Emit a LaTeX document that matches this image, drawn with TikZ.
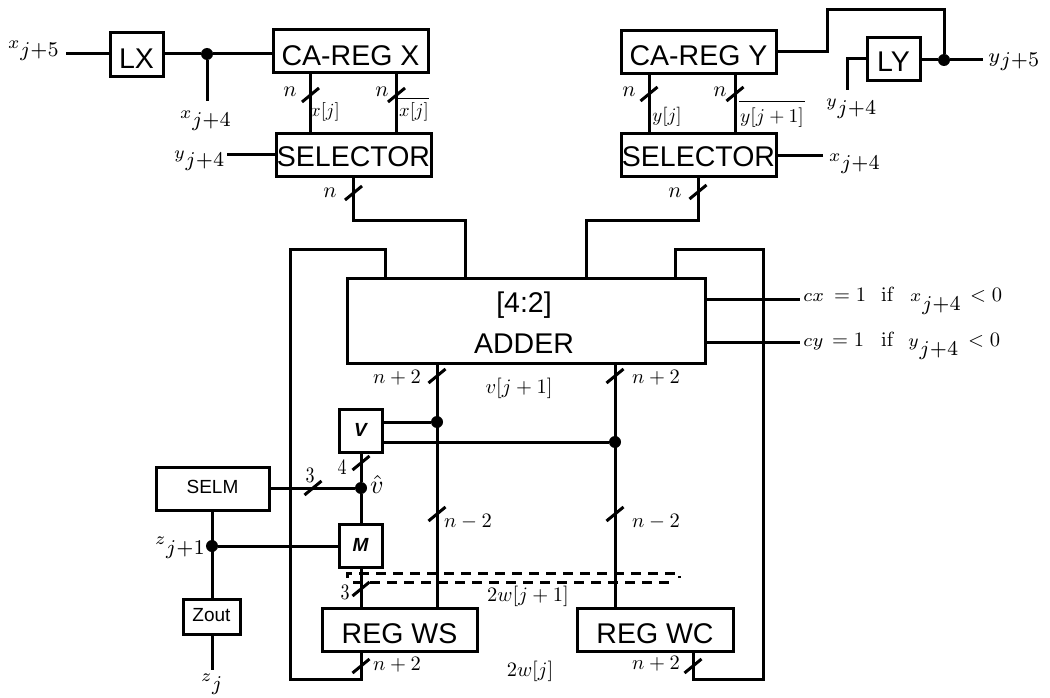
\documentclass[tikz,border=0pt]{standalone}
\usepackage[no-math]{fontspec}
\newfontfamily\sansf{Liberation Sans}
\usetikzlibrary{calc}
\newcommand\lab[3][8.5]{\raisebox{#1pt}{\scalebox{2.5}{$\scriptstyle #2$}}\kern0.5pt\scalebox{2.8}[3.0]{$\scriptstyle #3$}}
\newcommand\mm[2][2.05]{\scalebox{#1}{$#2$}}
\newcommand\bl[2]{\raisebox{-#1pt}{#2}}
\newcommand\bus[2]{\draw[wire] (#1,#2) ++(-8.5,7) -- ++(17,-14);}
\tikzset{
  wire/.style={line width=3pt,line join=miter},
  blk/.style={draw,line width=3pt,fill=white,inner sep=0pt,outer sep=0pt,text height=0pt,text depth=0pt,anchor=north west},
  big/.style={font=\sansf\fontsize{28.5}{30}\selectfont},
  small/.style={font=\sansf\fontsize{19}{21}\selectfont},
  smallbi/.style={font=\sansf\bfseries\itshape\fontsize{19}{21}\selectfont},
  dot/.style={circle,fill=black,inner sep=0pt,minimum size=12pt},
  txt/.style={inner sep=0pt,anchor=base west},
  ctxt/.style={inner sep=0pt,anchor=center},
  dsh/.style={line width=3pt,dash pattern=on 10pt off 7pt}
}
\begin{document}
\begin{tikzpicture}[x=1pt,y=-1pt]
\useasboundingbox (0,0) rectangle (1050,698);
% coordinates
\coordinate (inx) at (66,54);
\coordinate (xf) at (207,101);
\coordinate (iny) at (227,155);
\coordinate (outxr) at (823,156);
\coordinate (lyin) at (847,90);
\coordinate (yout) at (983,60);
\coordinate (cxo) at (800,299);
\coordinate (cyo) at (800,342);
\coordinate (zo) at (212,670);
% junctions
\node[dot] (dx) at (207,54) {};
\node[dot] (dy) at (944,60) {};
\node[dot] (dv1) at (437,422) {};
\node[dot] (dv2) at (615,442) {};
\node[dot] (dh) at (361,488) {};
\node[dot] (dz) at (212,546) {};
% boxes
\node[blk,big,minimum width=53pt,minimum height=44pt] (lx) at (110,33) {\bl{14}{LX}};
\node[blk,big,minimum width=155pt,minimum height=43pt] (cax) at (273,30) {\bl{14.5}{CA-REG X}};
\node[blk,big,minimum width=155pt,minimum height=43pt] (selx) at (276,134) {\bl{11.5}{SELECTOR}};
\node[blk,big,minimum width=155pt,minimum height=43pt] (cay) at (621,31) {\bl{13.5}{CA-REG Y}};
\node[blk,big,minimum width=155pt,minimum height=43pt] (sely) at (621,134) {\bl{11.5}{SELECTOR}};
\node[blk,big,minimum width=53pt,minimum height=43pt] (ly) at (867,38) {\bl{12.5}{LY}};
\node[blk,minimum width=358pt,minimum height=85pt] (add) at (347,278) {};
\node[ctxt,big] (addt1) at (524,305) {[4:2]};
\node[ctxt,big] (addt2) at (524,344) {ADDER};
\node[blk,smallbi,minimum width=43pt,minimum height=43pt] (vb) at (339,409) {\bl{6}{V}};
\node[blk,smallbi,minimum width=43pt,minimum height=43pt] (mb) at (339,524) {\bl{6}{M}};
\node[blk,small,minimum width=113pt,minimum height=43pt] (selm) at (156,467) {\bl{5}{SELM}};
\node[blk,small,minimum width=57pt,minimum height=35pt] (zout) at (183,599) {\bl{5}{Zout}};
\node[blk,big,minimum width=155pt,minimum height=43pt] (ws) at (322,608) {\bl{13.5}{REG WS}};
\node[blk,big,minimum width=156pt,minimum height=43pt] (wc) at (577,608) {\bl{14}{REG WC}};
% connectors top left
\draw[wire] (inx) -- (inx -| lx.west);
\draw[wire] (dx -| lx.east) -- (dx) -- (dx -| cax.west);
\draw[wire] (dx) -- (xf);
\draw[wire] (310.5,73) -- (310.5,134);
\draw[wire] (396.5,73) -- (396.5,134);
\draw[wire] (iny) -- (iny -| selx.west);
\draw[wire] (353.5,177) -- (353.5,220) -- (465.5,220) -- (465.5,278);
% connectors top right
\draw[wire] (649,74) -- (649,134);
\draw[wire] (735,74) -- (735,134);
\draw[wire] (outxr) -- (outxr -| sely.east);
\draw[wire] (698,177) -- (698,220) -- (586,220) -- (586,278);
\draw[wire] (cay.east |- 0,52) -- (827,52) -- (827,10) -- (944,10) -- (dy);
\draw[wire] (dy -| ly.east) -- (dy) -- (yout);
\draw[wire] (ly.west |- 0,59) -- (847,59) -- (lyin);
% adder outputs
\draw[wire] (add.east |- cxo) -- (cxo);
\draw[wire] (add.east |- cyo) -- (cyo);
\draw[wire] (437,363) -- (437,608);
\draw[wire] (615,363) -- (615,608);
\draw[wire] (vb.east |- dv1) -- (dv1);
\draw[wire] (vb.east |- dv2) -- (dv2);
% feedback
\draw[wire] (361,651) -- (361,679) -- (290.5,679) -- (290.5,249) -- (385,249) -- (385,278);
\draw[wire] (693,651) -- (693,679) -- (763,679) -- (763,249) -- (675,249) -- (675,278);
% mid left
\draw[wire] (361,452) -- (dh) -- (361,524);
\draw[wire] (selm.east |- dh) -- (dh);
\draw[wire] (361,567) -- (361,608);
\draw[wire] (dz |- selm.south) -- (dz |- zout.north);
\draw[wire] (dz) -- (dz -| mb.west);
\draw[wire] (dz |- zout.south) -- (zo);
% dashed
\draw[dsh] (347,578) -- (347,573) -- (679,573) -- (679,578);
\draw[dsh] (353,582) -- (676,582);
% bus ticks
\bus{310.5}{95}\bus{396.5}{95}\bus{353.5}{193}
\bus{649}{94}\bus{735}{94}\bus{698}{192}
\bus{437}{376}\bus{615}{376}\bus{437}{514}\bus{615}{514}
\bus{361}{463}\bus{313}{488}\bus{361}{589}\bus{361}{666}\bus{693}{666}
% labels
\node[txt] (l1) at (8,57) {\lab{x}{j+5}};
\node[txt] (l2) at (180,126.7) {\lab{x}{j+4}};
\node[txt] (l3) at (174,166.7) {\lab{y}{j+4}};
\node[txt] (l4) at (826,115) {\lab{y}{j+4}};
\node[txt] (l5) at (829,170) {\lab{x}{j+4}};
\node[txt] (l6) at (988,67) {\raisebox{4pt}{\scalebox{2.86}{$\scriptstyle y$}}\scalebox{2.8}[3.0]{$\scriptstyle j+5$}};
\node[txt] (l7) at (155,554) {\lab[10]{z}{j+1}};
\node[txt] (l8) at (201,690) {\lab[9]{z}{j}};
\node[ctxt] (n1) at (290,92) {\mm[2.2]{n}};
\node[ctxt] (n2) at (382,92) {\mm[2.2]{n}};
\node[ctxt] (n3) at (330,193) {\mm[2.2]{n}};
\node[ctxt] (n4) at (629,92) {\mm[2.2]{n}};
\node[ctxt] (n5) at (720,92) {\mm[2.2]{n}};
\node[ctxt] (n6) at (675,193) {\mm[2.2]{n}};
\node[ctxt] (e1) at (325,112) {\mm[1.85]{x[j]}};
\node[ctxt] (e2) at (414,112) {\mm[1.85]{x[j]}};
\draw[line width=0.8pt] (397,98.5) -- (429,98.5);
\node[ctxt] (e3) at (667,117) {\mm[1.9]{y[j]}};
\node[ctxt] (e4) at (772,118) {\mm[1.95]{y[j+1]}};
\draw[line width=0.8pt] (739,101) -- (805,101);
\node[ctxt] (p1) at (397,378) {\mm{n+2}};
\node[ctxt] (p2) at (656,378) {\mm{n+2}};
\node[ctxt] (p3) at (519,388) {\mm{v[j+1]}};
\node[ctxt] (p4) at (468,522) {\mm{n-2}};
\node[ctxt] (p5) at (656,522) {\mm{n-2}};
\node[ctxt] (p6) at (528,596) {\mm{2w[j+1]}};
\node[ctxt] (p7) at (397,665) {\mm{n+2}};
\node[ctxt] (p8) at (656,664) {\mm{n+2}};
\node[ctxt] (p9) at (530,671) {\mm{2w[j]}};
\node[ctxt] (q1) at (310,475) {\scalebox{1.8}[2.2]{$3$}};
\node[ctxt] (q2) at (342,467) {\scalebox{1.8}[2.2]{$4$}};
\node[ctxt] (q3) at (345,592) {\scalebox{1.8}[2.2]{$3$}};
\node[ctxt] (vh) at (377,484) {\mm[2.6]{\hat v}};
% condition labels
\node[txt] (c1) at (803,301) {\scalebox{2.6}{$\scriptstyle cx$}};
\node[txt] (c2) at (834,301) {\mm{=1}};
\node[txt] (c3) at (881,301) {\mm{\mathrm{if}}};
\node[txt] (c4) at (910,310) {\lab{x}{j+4}};
\node[txt] (c5) at (970,301) {\mm{<0}};
\node[txt] (d1) at (803,346) {\scalebox{2.6}{$\scriptstyle cy$}};
\node[txt] (d2) at (832,346) {\mm{=1}};
\node[txt] (d3) at (881,346) {\mm{\mathrm{if}}};
\node[txt] (d4) at (908,355) {\lab{y}{j+4}};
\node[txt] (d5) at (968,346) {\mm{<0}};
\end{tikzpicture}
\end{document}
